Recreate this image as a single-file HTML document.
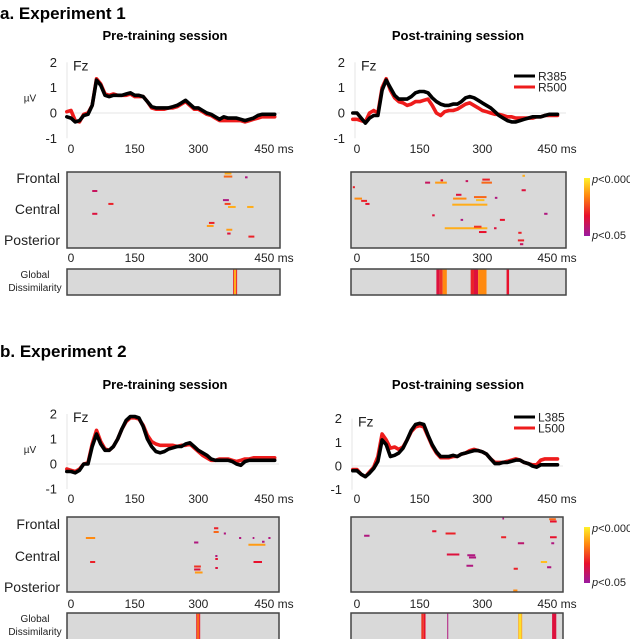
<!DOCTYPE html>
<html><head><meta charset="utf-8">
<style>
body{margin:0;background:#fff;}
svg{display:block;font-family:"Liberation Sans",Arial,sans-serif;}
</style></head>
<body>
<svg id="fig" width="630" height="639" viewBox="0 0 630 639" xmlns="http://www.w3.org/2000/svg">
<defs>
<linearGradient id="cbar" x1="0" y1="1" x2="0" y2="0">
<stop offset="0" stop-color="#9a1aa0"/><stop offset="0.35" stop-color="#e8102c"/><stop offset="0.7" stop-color="#ff8a10"/><stop offset="1" stop-color="#fff22a"/>
</linearGradient>
</defs>
<text x="0" y="19" font-size="17" font-weight="bold">a. Experiment 1</text>
<text x="165" y="40" font-size="13" font-weight="bold" text-anchor="middle">Pre-training session</text>
<text x="458" y="40" font-size="13" font-weight="bold" text-anchor="middle">Post-training session</text>
<text x="0" y="357" font-size="17" font-weight="bold">b. Experiment 2</text>
<text x="165" y="389" font-size="13" font-weight="bold" text-anchor="middle">Pre-training session</text>
<text x="458" y="389" font-size="13" font-weight="bold" text-anchor="middle">Post-training session</text>
<g id="layer"></g>
</svg>
<script>
const times = [-10,0,10,20,30,40,50,60,70,80,90,100,110,120,130,140,150,160,170,180,190,200,210,220,230,240,250,260,270,280,290,300,310,320,330,340,350,360,370,380,390,400,410,420,430,440,450,460,470,480];
const aPreBlack = [-0.15,-0.2,-0.35,-0.3,-0.1,-0.05,0.3,1.3,1.1,0.7,0.65,0.7,0.7,0.7,0.75,0.8,0.7,0.7,0.65,0.45,0.25,0.2,0.2,0.2,0.2,0.25,0.3,0.4,0.5,0.35,0.2,0.2,0.1,0,-0.05,-0.15,-0.25,-0.15,-0.2,-0.2,-0.2,-0.25,-0.3,-0.25,-0.2,-0.1,-0.05,-0.05,-0.05,-0.05];
const aPreRed = [0.05,0.1,-0.3,-0.35,-0.05,0,0.3,1.35,1.15,0.75,0.7,0.75,0.7,0.7,0.7,0.75,0.65,0.65,0.65,0.45,0.2,0.15,0.15,0.15,0.2,0.2,0.25,0.35,0.45,0.3,0.15,0.15,0.05,-0.05,-0.1,-0.2,-0.3,-0.3,-0.3,-0.3,-0.3,-0.3,-0.35,-0.3,-0.25,-0.2,-0.15,-0.15,-0.15,-0.15];
const aPostBlack = [0,0,-0.2,-0.4,-0.2,-0.1,-0.1,0.9,1.3,1.0,0.7,0.55,0.55,0.55,0.65,0.8,0.85,0.85,0.8,0.6,0.45,0.35,0.3,0.3,0.35,0.35,0.45,0.6,0.65,0.6,0.5,0.4,0.3,0.2,0.05,-0.1,-0.2,-0.3,-0.35,-0.35,-0.3,-0.25,-0.2,-0.15,-0.15,-0.15,-0.1,-0.05,-0.05,-0.05];
const aPostRed = [-0.25,-0.25,-0.3,-0.35,0,0.1,0,1.0,1.35,0.9,0.6,0.45,0.4,0.3,0.35,0.45,0.45,0.5,0.55,0.3,0,-0.1,0.05,0.1,0.1,0.15,0.25,0.35,0.4,0.3,0.2,0.1,0.05,0,-0.05,-0.05,-0.1,-0.15,-0.15,-0.2,-0.2,-0.2,-0.2,-0.2,-0.15,-0.15,-0.1,-0.1,-0.1,-0.1];
const bPreBlack = [-0.3,-0.3,-0.35,-0.25,0,0,0.7,1.2,0.8,0.55,0.55,0.7,1.0,1.4,1.75,1.9,1.9,1.85,1.5,1.0,0.7,0.5,0.45,0.5,0.6,0.65,0.7,0.7,0.8,0.85,0.7,0.55,0.45,0.35,0.2,0.15,0.15,0.15,0.15,0.1,0,-0.05,0.1,0.15,0.15,0.15,0.15,0.15,0.15,0.15];
const bPreRed = [-0.2,-0.25,-0.3,-0.2,0,0.05,0.8,1.35,0.9,0.6,0.55,0.7,1.0,1.4,1.7,1.85,1.85,1.8,1.55,1.15,0.9,0.8,0.75,0.75,0.75,0.75,0.7,0.75,0.75,0.8,0.65,0.5,0.35,0.25,0.15,0.15,0.2,0.2,0.2,0.15,0.1,0.15,0.2,0.2,0.25,0.25,0.25,0.25,0.25,0.25];
const bPostBlack = [-0.2,-0.2,-0.35,-0.45,-0.3,-0.1,0.2,1.1,0.9,0.4,0.45,0.55,0.75,1.1,1.5,1.75,1.8,1.75,1.3,0.9,0.6,0.4,0.4,0.4,0.45,0.4,0.5,0.55,0.6,0.65,0.65,0.6,0.5,0.3,0.1,0.1,0.15,0.15,0.2,0.25,0.25,0.15,0.1,0,-0.05,0.05,0.05,0.05,0.05,0.05];
const bPostRed = [-0.15,-0.15,-0.35,-0.45,-0.25,-0.05,0.4,1.35,1.1,0.75,0.8,0.7,0.8,1.1,1.45,1.65,1.7,1.65,1.25,0.85,0.55,0.35,0.35,0.35,0.4,0.4,0.5,0.55,0.65,0.7,0.65,0.6,0.5,0.3,0.15,0.15,0.15,0.2,0.25,0.3,0.25,0.15,0.1,0.05,0.05,0.25,0.3,0.3,0.3,0.3];
const xTicks = [0,150,300,450];
const yTicks = [2,1,0,-1];
const regionLabels = ["Frontal","Central","Posterior"];
const legendA = ["R385","R500"];
const legendB = ["L385","L500"];
// heatmap segments: [startMs, endMs, rowFraction, pLevel(0=p<.05 .. 1=p<.0001)]
const aPreHeat = [[362,378,0.02,0.8],[360,380,0.06,0.6],[410,416,0.07,0.1],[50,62,0.25,0.2],[88,100,0.42,0.4],[50,62,0.55,0.3],[358,372,0.37,0.1],[362,376,0.42,0.5],[370,388,0.46,0.8],[415,430,0.46,0.8],[325,338,0.67,0.4],[320,336,0.71,0.75],[366,380,0.76,0.75],[368,376,0.81,0.3],[418,432,0.85,0.4]];
const aPostHeat = [[163,175,0.14,0.2],[187,215,0.14,0.75],[200,206,0.11,0.3],[260,266,0.12,0.2],[300,318,0.1,0.4],[298,323,0.14,0.6],[396,402,0.05,0.8],[394,404,0.24,0.3],[-10,-5,0.2,0.4],[-6,12,0.35,0.7],[10,24,0.38,0.4],[20,30,0.42,0.35],[237,250,0.3,0.3],[230,262,0.35,0.7],[280,310,0.33,0.6],[285,305,0.37,0.85],[228,312,0.43,0.8],[330,336,0.34,0.1],[180,186,0.57,0.3],[248,254,0.63,0.1],[342,354,0.63,0.35],[210,312,0.74,0.8],[280,298,0.72,0.45],[292,310,0.79,0.35],[328,334,0.74,0.3],[386,394,0.8,0.4],[385,400,0.9,0.4],[390,398,0.95,0.2],[448,456,0.55,0.1]];
const bPreHeat = [[337,347,0.15,0.4],[336,348,0.2,0.6],[360,365,0.22,0.1],[35,57,0.28,0.7],[290,300,0.34,0.1],[396,401,0.28,0.1],[428,432,0.28,0.1],[465,470,0.28,0.1],[418,458,0.37,0.75],[450,456,0.33,0.1],[45,57,0.6,0.4],[340,345,0.52,0.1],[340,346,0.56,0.35],[430,450,0.6,0.35],[290,306,0.66,0.45],[290,305,0.7,0.3],[292,310,0.74,0.75],[340,346,0.68,0.3]];
const bPostHeat = [[17,30,0.25,0.1],[180,190,0.19,0.35],[212,236,0.22,0.4],[215,245,0.5,0.3],[264,283,0.51,0.1],[268,285,0.54,0.1],[262,278,0.65,0.1],[345,357,0.27,0.4],[385,400,0.35,0.15],[375,385,0.69,0.4],[440,455,0.6,0.85],[455,465,0.67,0.1],[460,476,0.03,0.6],[462,478,0.06,0.35],[462,478,0.27,0.35],[465,472,0.35,0.1],[348,352,0.02,0.1],[374,384,0.98,0.7]];
// global dissimilarity: [startMs, endMs, pLevel]
const aPreGlobal = [[382,384,0.4],[384,389,0.8],[389,391,0.4]];
const aPostGlobal = [[190,198,0.3],[198,205,0.45],[205,215,0.7],[272,280,0.4],[280,290,0.3],[290,310,0.7],[358,364,0.35]];
const bPreGlobal = [[295,297,0.4],[297,302,0.6],[302,304,0.35]];
const bPostGlobal = [[154,160,0.45],[160,164,0.35],[216,218,0.1],[386,388,0.8],[388,393,0.95],[393,395,0.8],[467,477,0.3]];

const NS="http://www.w3.org/2000/svg";
const layer=document.getElementById('layer');
function mk(tag,attrs,parent){const e=document.createElementNS(NS,tag);for(const k in attrs)e.setAttribute(k,attrs[k]);(parent||layer).appendChild(e);return e;}
function cmap(v){const st=[[0,[154,26,160]],[0.35,[232,16,44]],[0.7,[255,138,16]],[1,[255,242,42]]];
 for(let i=1;i<st.length;i++){if(v<=st[i][0]){const a=st[i-1],b=st[i];const f=(v-a[0])/(b[0]-a[0]);return 'rgb('+a[1].map((c,j)=>Math.round(c+(b[1][j]-c)*f)).join(',')+')';}}return 'rgb(255,242,42)';}

function panel(cfg){
 const xs=t=>cfg.x0+t*cfg.pxMs;
 const ys=v=>cfg.yZero-v*cfg.pxUV;
 const g=mk('g',{});
 
 
 const zl=mk('line',{x1:cfg.axisX,x2:cfg.heat[0]+cfg.heat[2],y1:ys(0),y2:ys(0),stroke:'#e4e4e4','stroke-width':1},g);
 
 
 const ax=mk('line',{x1:cfg.axisX,x2:cfg.axisX,y1:ys(2),y2:ys(-1),stroke:'#e4e4e4','stroke-width':1},g);
 
 
 yTicks.forEach(v=>{const t=mk('text',{x:cfg.axisX-10,y:ys(v)+4.5,'font-size':13,'text-anchor':'end',fill:'#222'},g);t.textContent=v;
  
  });
 const fz=mk('text',{x:cfg.axisX+6,y:ys(2)+8,'font-size':14,fill:'#222'},g);fz.textContent='Fz';
 
 
 if(cfg.uv){const u=mk('text',{x:30,y:ys(1)+14,'font-size':10,fill:'#222','text-anchor':'middle'},g);u.textContent='µV';
  
  }
 function ticks(y,nm){xTicks.forEach((v,i)=>{const t=mk('text',{x:xs(v),y:y,'font-size':12,'text-anchor':'middle',fill:'#222'},g);t.textContent=v+(i===xTicks.length-1?' ms':'');
   if(i===xTicks.length-1)t.setAttribute('x',xs(v)-4+16);
   
   });}
 ticks(cfg.tickY,'x-tick-label');
 [[cfg.red,'#ee1c1c','red-series'],[cfg.black,'#000','black-series']].forEach(s=>{
  const d=s[0].map((v,i)=>(i?'L':'M')+xs(times[i]).toFixed(1)+','+ys(v).toFixed(1)).join(' ');
  const p=mk('path',{d:d,fill:'none',stroke:s[1],'stroke-width':3.6,'stroke-linejoin':'round','stroke-linecap':'round'},g);
  
  });
 if(cfg.legend){cfg.legend.forEach((l,i)=>{const y=cfg.legY+i*11;
  const ln=mk('line',{x1:514,x2:535,y1:y,y2:y,stroke:i?'#ee1c1c':'#000','stroke-width':3},g);
  
  
  const t=mk('text',{x:538,y:y+4.5,'font-size':12,fill:'#222'},g);t.textContent=l;
  
  });}
 const [hx,hy,hw,hh]=cfg.heat;
 const hb=mk('rect',{x:hx,y:hy,width:hw,height:hh,fill:'#d9d9d9'},g);
 
 
 cfg.segs.forEach(s=>{const x1=Math.max(hx,xs(s[0]));const r=mk('rect',{x:x1,y:hy+s[2]*hh-1,width:Math.max(1.5,xs(s[1])-x1),height:2,fill:cmap(s[3])},g);
  
  });
 const hf=mk('rect',{x:hx,y:hy,width:hw,height:hh,fill:'none',stroke:'#444','stroke-width':1.5},g);
 
 
 ticks(cfg.heatTickY,'heatmap-x-tick-label');
 if(cfg.regions){regionLabels.forEach((l,i)=>{const t=mk('text',{x:60,y:cfg.regionY[i]+5,'font-size':14,'text-anchor':'end',fill:'#222'},g);t.textContent=l;
  
  });
  [['Global',cfg.glob[1]+9],['Dissimilarity',cfg.glob[1]+22]].forEach(a=>{const t=mk('text',{x:35,y:a[1],'font-size':10,'text-anchor':'middle',fill:'#222'},g);t.textContent=a[0];
   
   });}
 const [gx,gy,gw,gh]=cfg.glob;
 const gb=mk('rect',{x:gx,y:gy,width:gw,height:gh,fill:'#d9d9d9'},g);
 
 
 cfg.gsegs.forEach(s=>{const r=mk('rect',{x:xs(s[0]),y:gy,width:Math.max(1,xs(s[1])-xs(s[0])),height:gh,fill:cmap(s[2])},g);
  
  });
 const gf=mk('rect',{x:gx,y:gy,width:gw,height:gh,fill:'none',stroke:'#444','stroke-width':1.5},g);
 
 
 if(cfg.cbar){const [cx,cy,cw,ch]=cfg.cbar;
  const c=mk('rect',{x:cx,y:cy,width:cw,height:ch,fill:'url(#cbar)'},g);
  
  
  [[cy+5,'<0.0001'],[cy+ch+3,'<0.05']].forEach(a=>{const t=mk('text',{x:cx+8,y:a[0],'font-size':11,fill:'#222'},g);
   const p=mk('tspan',{'font-style':'italic'},t);p.textContent='p';
   const r=mk('tspan',{},t);r.textContent=a[1];
   
   });}
}
panel({name:'a-pre-panel',x0:71,pxMs:191/450,axisX:67,yZero:113,pxUV:25.3,tickY:153,uv:true,black:aPreBlack,red:aPreRed,heat:[67,172,213,76],segs:aPreHeat,heatTickY:262,regions:true,regionY:[178,209,240],glob:[67,269,213,26],gsegs:aPreGlobal});
panel({name:'a-post-panel',x0:357,pxMs:188/450,axisX:355,yZero:113,pxUV:25.3,tickY:153,black:aPostBlack,red:aPostRed,legend:legendA,legY:76,heat:[351,172,215,76],segs:aPostHeat,heatTickY:262,glob:[351,269,215,26],gsegs:aPostGlobal,cbar:[584,178,6,58]});
panel({name:'b-pre-panel',x0:71,pxMs:191/450,axisX:67,yZero:464,pxUV:25,tickY:503,uv:true,black:bPreBlack,red:bPreRed,heat:[67,517,212,75],segs:bPreHeat,heatTickY:608,regions:true,regionY:[524,556,587],glob:[67,613,212,27],gsegs:bPreGlobal});
panel({name:'b-post-panel',x0:357,pxMs:188/450,axisX:352,yZero:466,pxUV:23.7,tickY:503,black:bPostBlack,red:bPostRed,legend:legendB,legY:417,heat:[351,517,212,75],segs:bPostHeat,heatTickY:608,glob:[351,613,212,27],gsegs:bPostGlobal,cbar:[584,527,6,56]});
</script>
</body></html>
